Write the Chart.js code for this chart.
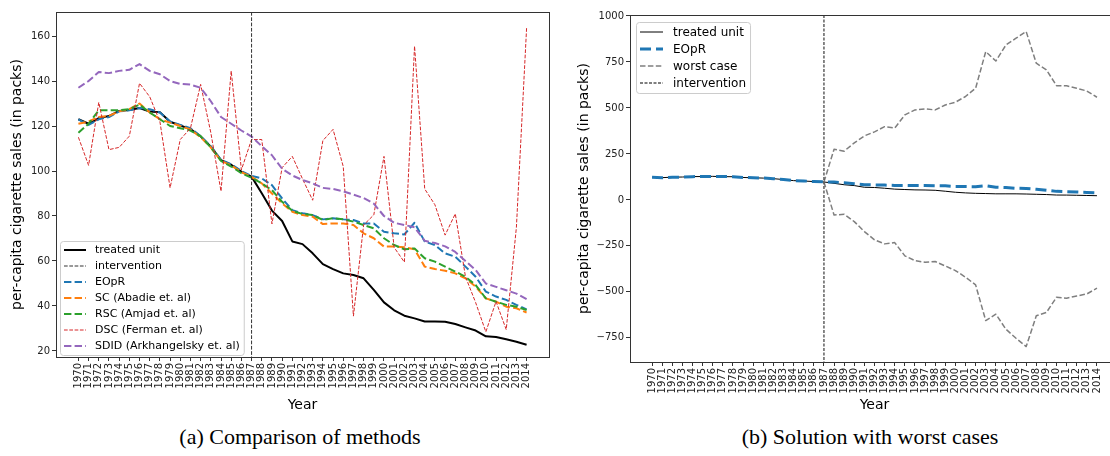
<!DOCTYPE html>
<html>
<head>
<meta charset="utf-8">
<script src="https://cdn.jsdelivr.net/npm/chart.js@4.4.0/dist/chart.umd.min.js"></script>
<style>
  html, body { margin: 0; padding: 0; background: #fff; overflow: hidden; width: 1110px; height: 456px; }
  .panel { position: absolute; top: 0; height: 420px; }
  #wrapA { left: 0; width: 560px; }
  #wrapB { left: 560px; width: 562px; }
  .caption { position: absolute; top: 424px; font-family: 'Liberation Serif', serif; font-size: 22px; color: #000;
             white-space: nowrap; transform: translateX(-50%); }
</style>
</head>
<body>
<div class="panel" id="wrapA"><canvas id="methodsChart" width="560" height="420"></canvas></div>
<div class="panel" id="wrapB"><canvas id="worstChart" width="562" height="420"></canvas></div>
<div class="caption" style="left:300px">(a) Comparison of methods</div>
<div class="caption" style="left:870px">(b) Solution with worst cases</div>

<script>
// Per-capita cigarette sales, 1970-2014
const years = [1970, 1971, 1972, 1973, 1974, 1975, 1976, 1977, 1978, 1979,
               1980, 1981, 1982, 1983, 1984, 1985, 1986, 1987, 1988, 1989,
               1990, 1991, 1992, 1993, 1994, 1995, 1996, 1997, 1998, 1999,
               2000, 2001, 2002, 2003, 2004, 2005, 2006, 2007, 2008, 2009,
               2010, 2011, 2012, 2013, 2014];
const interventionYear = 1987;

const treatedUnit = [123.0, 121.0, 123.5, 124.4, 126.7, 127.1, 128.0, 126.4, 126.1, 121.9,
                     120.2, 118.6, 115.4, 110.8, 104.8, 102.8, 99.7, 97.5, 90.1, 82.4,
                     77.8, 68.7, 67.5, 63.4, 58.6, 56.4, 54.5, 53.8, 52.3, 47.2,
                     41.6, 38.1, 35.7, 34.5, 33.1, 33.1, 33.0, 32.0, 30.5, 29.1,
                     26.5, 26.2, 25.2, 24.1, 22.8];
const eopr = [123.0, 120.5, 123.0, 124.0, 126.5, 127.0, 128.0, 127.5, 126.0, 122.0,
              120.5, 119.0, 115.5, 111.0, 105.0, 103.0, 100.0, 97.8, 96.7, 93.7,
              87.8, 82.6, 81.2, 80.4, 78.5, 79.0, 78.5, 78.2, 76.7, 76.7,
              73.0, 72.3, 71.8, 77.0, 68.6, 67.1, 63.4, 61.9, 57.5, 53.0,
              46.4, 44.2, 42.7, 40.5, 38.5];
const scAbadie = [121.0, 122.0, 124.0, 124.5, 126.5, 127.5, 130.0, 126.0, 123.0, 121.5,
                  120.0, 118.5, 115.0, 110.5, 104.5, 102.5, 99.5, 97.4, 94.5, 90.0,
                  85.6, 81.9, 80.4, 79.7, 76.4, 76.7, 76.7, 76.0, 72.3, 70.1,
                  66.4, 66.4, 66.1, 65.2, 57.5, 56.4, 55.7, 54.5, 52.3, 48.6,
                  43.4, 41.9, 39.7, 39.0, 37.1];
const rscAmjad = [117.0, 121.0, 127.0, 127.0, 127.0, 127.5, 129.5, 126.0, 123.0, 120.0,
                  119.0, 118.0, 115.5, 110.5, 104.5, 102.0, 99.0, 97.0, 94.5, 91.5,
                  86.3, 82.3, 80.9, 80.4, 78.2, 79.0, 78.5, 77.5, 76.0, 74.5,
                  70.1, 67.1, 65.2, 65.6, 61.2, 59.7, 57.5, 55.3, 53.0, 49.3,
                  43.4, 41.9, 40.5, 39.7, 38.2];
const dscFerman = [115.0, 102.5, 130.5, 109.5, 110.5, 115.5, 139.0, 133.0, 122.0, 92.5,
                   114.0, 119.0, 138.5, 117.0, 91.0, 144.5, 100.5, 114.0, 114.0, 76.5,
                   101.5, 106.5, 96.5, 87.0, 113.5, 118.5, 102.0, 35.5, 76.0, 80.5,
                   106.5, 66.0, 59.5, 155.5, 92.0, 85.0, 71.5, 81.0, 53.0, 41.5,
                   28.5, 42.0, 29.5, 75.0, 163.5];
const sdidArkhangelsky = [137.0, 140.0, 144.0, 143.5, 144.5, 145.0, 147.5, 144.5, 143.0, 140.0,
                          138.7, 138.4, 137.0, 131.0, 124.0, 121.0, 118.0, 115.3, 111.0, 107.0,
                          101.0, 98.0, 96.0, 94.5, 92.5, 92.0, 91.0, 89.5, 88.0, 85.5,
                          80.0, 77.0, 76.0, 75.0, 69.0, 68.0, 66.5, 64.0, 60.0, 56.0,
                          50.0, 48.5, 47.0, 45.5, 43.0];

// worst-case bounds only exist after the intervention
const worstYears = [1987, 1988, 1989, 1990, 1991, 1992, 1993, 1994, 1995, 1996,
                    1997, 1998, 1999, 2000, 2001, 2002, 2003, 2004, 2005, 2006,
                    2007, 2008, 2009, 2010, 2011, 2012, 2013, 2014];
const worstUpper = [97.5, 275, 265, 310, 348, 370, 398, 390, 462, 489,
                    495, 489, 516, 531, 562, 607, 806, 755, 842, 879,
                    915, 743, 707, 621, 620, 607, 592, 558];
const worstLower = [97.5, -82, -78, -118, -172, -217, -239, -232, -304, -330,
                    -339, -335, -359, -384, -420, -462, -656, -621, -703, -752,
                    -797, -630, -612, -529, -534, -522, -511, -480];

const yTicksMethods = [20, 40, 60, 80, 100, 120, 140, 160];
const yTicksWorst = [-750, -500, -250, 0, 250, 500, 750, 1000];

const FONT = "'DejaVu Sans', sans-serif";
const AXIS_COLOR = '#333';

const toPoints = (xs, ys) => xs.map((x, i) => ({ x: x, y: ys[i] }));

function line(label, xs, ys, color, width, dash) {
    return {
        label: label,
        data: toPoints(xs, ys),
        borderColor: color,
        backgroundColor: color,
        borderWidth: width,
        borderDash: dash,
        borderJoinStyle: 'round',
        pointRadius: 0,
        fill: false,
        tension: 0
    };
}

// Later datasets are painted on top of earlier ones
function stackOrder(datasets) {
    return datasets.map((d, i) => Object.assign(d, { order: datasets.length - i }));
}

// Frame, intervention marker and in-plot legend
const framePlugin = {
    id: 'frame',
    afterDatasetsDraw(chart, args, opts) {
        const { ctx, chartArea: a } = chart;
        const iv = opts.intervention;
        const px = chart.scales.x.getPixelForValue(iv.year);
        ctx.save();
        ctx.strokeStyle = iv.color;
        ctx.lineWidth = iv.width;
        ctx.setLineDash(iv.dash);
        ctx.beginPath();
        ctx.moveTo(px, a.top);
        ctx.lineTo(px, a.bottom);
        ctx.stroke();
        ctx.restore();
    },
    afterDraw(chart, args, opts) {
        const { ctx, chartArea: a } = chart;
        ctx.save();
        ctx.strokeStyle = AXIS_COLOR;
        ctx.lineWidth = 1;
        ctx.strokeRect(Math.round(a.left) + 0.5, Math.round(a.top) + 0.5,
                       Math.round(a.right - a.left), Math.round(a.bottom - a.top));

        const lg = opts.legend;
        ctx.font = lg.size + 'px ' + FONT;
        const textW = Math.max.apply(null, lg.items.map(it => ctx.measureText(it.label).width));
        const w = lg.padX + lg.handle + lg.gap + textW + lg.padX;
        const h = lg.items.length * lg.rowH + 2 * lg.padY;
        const bx = a.left + lg.dx;
        const by = lg.corner === 'bottom' ? a.bottom - lg.dy - h : a.top + lg.dy;

        ctx.beginPath();
        ctx.roundRect(bx + 0.5, by + 0.5, w, h, 3);
        ctx.fillStyle = 'rgba(255,255,255,0.8)';
        ctx.fill();
        ctx.strokeStyle = '#cccccc';
        ctx.stroke();

        lg.items.forEach((it, i) => {
            const cy = by + lg.padY + lg.rowH * (i + 0.5);
            ctx.save();
            ctx.strokeStyle = it.color;
            ctx.lineWidth = it.width;
            ctx.setLineDash(it.dash);
            ctx.beginPath();
            ctx.moveTo(bx + lg.padX, cy);
            ctx.lineTo(bx + lg.padX + lg.handle, cy);
            ctx.stroke();
            ctx.restore();
            ctx.fillStyle = '#000';
            ctx.textBaseline = 'middle';
            ctx.textAlign = 'left';
            ctx.fillText(it.label, bx + lg.padX + lg.handle + lg.gap, cy + 0.5);
        });
        ctx.restore();
    }
};

function buildScales(cfg) {
    const tickGrid = { display: true, drawOnChartArea: false, drawTicks: true, tickLength: 4, tickWidth: 1, tickColor: AXIS_COLOR };
    return {
        x: {
            type: 'linear',
            min: cfg.xMin,
            max: cfg.xMax,
            afterBuildTicks: s => { s.ticks = years.map(v => ({ value: v })); },
            afterFit: s => { s.height = cfg.xHeight; },
            ticks: { autoSkip: false, minRotation: 90, maxRotation: 90, padding: 2, color: '#222',
                     font: { family: FONT, size: 10 }, callback: v => String(v) },
            grid: tickGrid,
            border: { display: true, color: AXIS_COLOR, width: 1 },
            title: { display: true, text: 'Year', color: '#000', font: { family: FONT, size: 14 },
                     padding: { top: 0, bottom: 6.6 } }
        },
        y: {
            type: 'linear',
            min: cfg.yMin,
            max: cfg.yMax,
            afterBuildTicks: s => { s.ticks = cfg.yTicks.map(v => ({ value: v })); },
            afterFit: s => { s.width = cfg.yWidth; },
            ticks: { padding: 2, color: '#222', font: { family: FONT, size: 10 },
                     callback: v => (v < 0 ? '\u2212' + Math.abs(v) : String(v)) },
            grid: tickGrid,
            border: { display: true, color: AXIS_COLOR, width: 1 },
            title: { display: true, text: 'per-capita cigarette sales (in packs)', color: '#000',
                     font: { family: FONT, size: 14 }, padding: { top: cfg.yTitlePad, bottom: 0 } }
        }
    };
}

const baseOptions = {
    responsive: false,
    animation: false,
    events: []
};

// (a) all estimators against the treated unit
const methodsStyles = {
    treated: ['#000000', 2, []],
    eopr: ['#1f77b4', 2, [7.4, 3.2]],
    sc: ['#ff7f0e', 2, [7.4, 3.2]],
    rsc: ['#2ca02c', 2, [7.4, 3.2]],
    dsc: ['#d62728', 1, [3.7, 1.6]],
    sdid: ['#9467bd', 2, [7.4, 3.2]],
    intervention: ['#333333', 1, [3.7, 1.6]]
};
const ms = methodsStyles;

new Chart(document.getElementById('methodsChart'), {
    type: 'line',
    data: {
        datasets: stackOrder([
            line('treated unit', years, treatedUnit, ...ms.treated),
            line('EOpR', years, eopr, ...ms.eopr),
            line('SC (Abadie et. al)', years, scAbadie, ...ms.sc),
            line('RSC (Amjad et. al)', years, rscAmjad, ...ms.rsc),
            line('DSC (Ferman et. al)', years, dscFerman, ...ms.dsc),
            line('SDID (Arkhangelsky et. al)', years, sdidArkhangelsky, ...ms.sdid)
        ])
    },
    options: Object.assign({}, baseOptions, {
        layout: { padding: { left: 0, top: 12, right: 11, bottom: 0 } },
        scales: buildScales({ xMin: 1967.8, xMax: 2016.2, xHeight: 63, yMin: 17.33, yMax: 170.67,
                              yTicks: yTicksMethods, yWidth: 56, yTitlePad: 8.6 }),
        plugins: {
            legend: { display: false },
            tooltip: { enabled: false },
            frame: {
                intervention: { year: interventionYear, color: ms.intervention[0], width: ms.intervention[1], dash: ms.intervention[2] },
                legend: {
                    corner: 'bottom', dx: 4, dy: 2, padX: 4, padY: 1, handle: 22, gap: 9, rowH: 16, size: 11,
                    items: [
                        ['treated unit', ms.treated], ['intervention', ms.intervention], ['EOpR', ms.eopr],
                        ['SC (Abadie et. al)', ms.sc], ['RSC (Amjad et. al)', ms.rsc],
                        ['DSC (Ferman et. al)', ms.dsc], ['SDID (Arkhangelsky et. al)', ms.sdid]
                    ].map(([label, s]) => ({ label: label, color: s[0], width: s[1], dash: s[2] }))
                }
            }
        }
    }),
    plugins: [framePlugin]
});

// (b) EOpR with its worst-case envelope
const worstStyles = {
    treated: ['#000000', 1, []],
    eopr: ['#1f77b4', 3, [11, 5]],
    worst: ['#7f7f7f', 1.5, [5.5, 2.4]],
    intervention: ['#555555', 1.4, [3, 1.5]]
};
const ws = worstStyles;

new Chart(document.getElementById('worstChart'), {
    type: 'line',
    data: {
        datasets: stackOrder([
            line('treated unit', years, treatedUnit, ...ws.treated),
            line('EOpR', years, eopr, ...ws.eopr),
            line('worst case', worstYears, worstUpper, ...ws.worst),
            line('worst case', worstYears, worstLower, ...ws.worst)
        ])
    },
    options: Object.assign({}, baseOptions, {
        layout: { padding: { left: 0, top: 15, right: 3, bottom: 0 } },
        scales: buildScales({ xMin: 1967.82, xMax: 2016.18, xHeight: 58, yMin: -881, yMax: 1005,
                              yTicks: yTicksWorst, yWidth: 70, yTitlePad: 15.6 }),
        plugins: {
            legend: { display: false },
            tooltip: { enabled: false },
            frame: {
                intervention: { year: interventionYear, color: ws.intervention[0], width: ws.intervention[1], dash: ws.intervention[2] },
                legend: {
                    corner: 'top', dx: 6, dy: 7, padX: 4, padY: 1.5, handle: 23, gap: 10, rowH: 17, size: 12,
                    items: [
                        ['treated unit', ws.treated], ['EOpR', ws.eopr],
                        ['worst case', ws.worst], ['intervention', ws.intervention]
                    ].map(([label, s]) => ({ label: label, color: s[0], width: s[1], dash: s[2] }))
                }
            }
        }
    }),
    plugins: [framePlugin]
});
</script>
</body>
</html>
